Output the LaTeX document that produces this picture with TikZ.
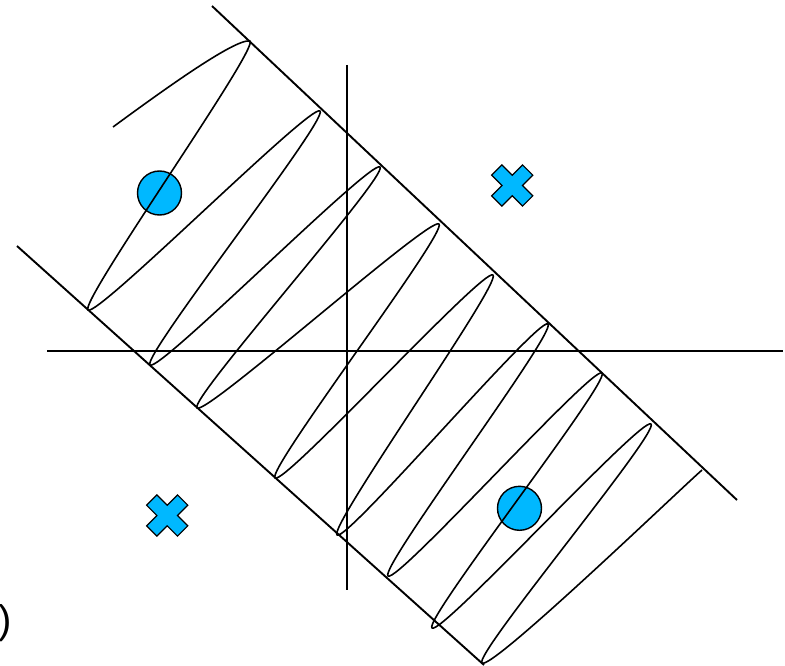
\documentclass[tikz,border=0pt]{standalone}
\usepackage{fontspec}
\setmainfont{Liberation Sans}
\definecolor{dotblue}{RGB}{0,184,255}
\begin{document}
\begin{tikzpicture}[x=1pt,y=-1pt,
  axisline/.style={line width=2pt},
  rail/.style={line width=1.9pt},
  coil/.style={line width=1.6pt, line join=round},
  dot/.style={circle, draw=black, line width=1.4pt, fill=dotblue, minimum size=44pt, inner sep=0pt},
  xcross/.pic={\draw[x=10.3pt,y=10.3pt,line width=1.2pt,fill=dotblue,line join=miter]
     (0,-1)--(1,-2)--(2,-1)--(1,0)--(2,1)--(1,2)--(0,1)--(-1,2)--(-2,1)--(-1,0)--(-2,-1)--(-1,-2)--cycle;}
]
\useasboundingbox (0,0) rectangle (785,666);
% axes
\coordinate (hl) at (47,351);
\coordinate (hr) at (783,351);
\coordinate (vt) at (347,65);
\coordinate (vb) at (347,590);
\draw[axisline] (hl) -- (hr);
\draw[axisline] (vt) -- (vb);
% rails
\coordinate (ua) at (212,6);
\coordinate (ub) at (737,500);
\coordinate (la) at (17,246);
\coordinate (lb) at (484,665);
\draw[rail] (ua) -- (ub);
\draw[rail] (la) -- (lb);
% dots and crosses
\node[dot] (c1) at (159.5,193) {};
\node[dot] (c2) at (519.5,508.3) {};
\pic (x1) at (512.2,185.5) {xcross};
\pic (x2) at (167.2,515.5) {xcross};
% coil tips
\coordinate (S) at (113,127);
\coordinate (U1) at (250,41);
\coordinate (L1) at (88,310);
\coordinate (U2) at (320,111);
\coordinate (L2) at (150,365);
\coordinate (U3) at (380,167);
\coordinate (L3) at (197,408);
\coordinate (U4) at (439,224);
\coordinate (L4) at (275,478);
\coordinate (U5) at (493,275);
\coordinate (L5) at (337,535);
\coordinate (U6) at (548,324);
\coordinate (L6) at (388,576);
\coordinate (U7) at (602,373);
\coordinate (L7) at (432,628);
\coordinate (U8) at (651,424);
\coordinate (L8) at (482,663);
\coordinate (E) at (702,470);
\def\hx{8.8}\def\hy{8.2}
\draw[coil] (S) .. controls +(45,-33) and +(-15,-3) .. (U1)
  .. controls +(\hx,\hy) and +(-\hx,-\hy) .. (L1)
  .. controls +(\hx,\hy) and +(-\hx,-\hy) .. (U2)
  .. controls +(\hx,\hy) and +(-\hx,-\hy) .. (L2)
  .. controls +(\hx,\hy) and +(-\hx,-\hy) .. (U3)
  .. controls +(\hx,\hy) and +(-\hx,-\hy) .. (L3)
  .. controls +(\hx,\hy) and +(-\hx,-\hy) .. (U4)
  .. controls +(\hx,\hy) and +(-\hx,-\hy) .. (L4)
  .. controls +(\hx,\hy) and +(-\hx,-\hy) .. (U5)
  .. controls +(\hx,\hy) and +(-\hx,-\hy) .. (L5)
  .. controls +(\hx,\hy) and +(-\hx,-\hy) .. (U6)
  .. controls +(\hx,\hy) and +(-\hx,-\hy) .. (L6)
  .. controls +(\hx,\hy) and +(-\hx,-\hy) .. (U7)
  .. controls +(\hx,\hy) and +(-\hx,-\hy) .. (L7)
  .. controls +(\hx,\hy) and +(-\hx,-\hy) .. (U8)
  .. controls +(\hx,\hy) and +(-\hx,-\hy) .. (L8)
  .. controls +(\hx,\hy) and +(-25,22) .. (E);
% clipped paren at lower left
\node[anchor=base west, inner sep=0pt, font=\fontsize{40}{40}\selectfont] (paren) at (-1.5,633.5) {)};
\end{tikzpicture}
\end{document}
